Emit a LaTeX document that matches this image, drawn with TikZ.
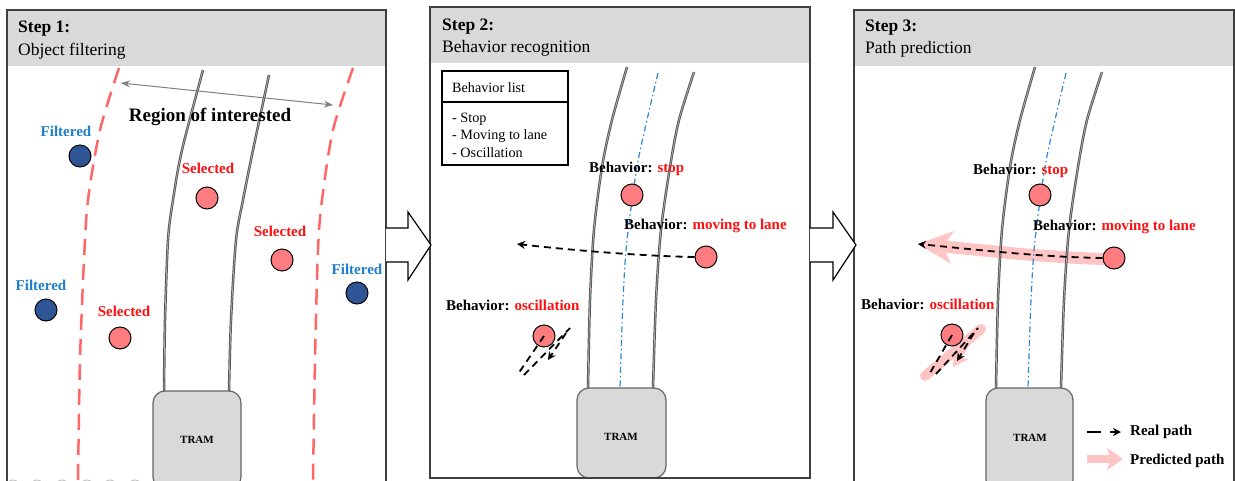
\documentclass[tikz,border=0pt]{standalone}
\usepackage{fontspec}
\setmainfont{Liberation Serif}
\usetikzlibrary{arrows.meta}
\definecolor{hdr}{HTML}{D9D9D9}
\definecolor{frame}{HTML}{404040}
\definecolor{roi}{HTML}{FF6666}
\definecolor{selfill}{HTML}{FF7C80}
\definecolor{filfill}{HTML}{2F5597}
\definecolor{filtxt}{HTML}{1E7FCF}
\definecolor{centre}{HTML}{2E86D6}
\definecolor{predc}{HTML}{FFC4C4}
\definecolor{railc}{HTML}{555555}
\definecolor{redtxt}{HTML}{FF1010}
\begin{document}
\begin{tikzpicture}[x=1pt,y=-1pt,
  panel/.style={draw=frame, line width=1.5pt},
  title/.style={anchor=base west, inner sep=0, font=\fontsize{17.5}{20}\selectfont},
  lbl/.style={anchor=base, inner sep=0, font=\fontsize{15}{18}\selectfont\bfseries},
  blbl/.style={anchor=base west, inner sep=0, font=\fontsize{15}{18}\selectfont\bfseries},
  sel/.style={circle, draw=black, line width=1pt, fill=selfill, minimum size=22pt, inner sep=0},
  fil/.style={circle, draw=black, line width=1pt, fill=filfill, minimum size=22pt, inner sep=0},
  rail/.style={draw=railc, line width=0.9pt, double=gray!60, double distance=0.7pt},
  roiline/.style={draw=roi, line width=2.5pt, dash pattern=on 16pt off 9pt},
  cline/.style={draw=centre, line width=1.2pt, dash pattern=on 6pt off 3pt on 1.5pt off 3pt},
  tram/.style={draw=gray!80!black, line width=1.2pt, fill=hdr, rounded corners=12pt},
  tramtxt/.style={font=\fontsize{11}{13}\selectfont\bfseries, inner sep=0, anchor=base},
  realpath/.style={draw=black, line width=1.8pt, dash pattern=on 7pt off 5pt},
  realtip/.style={-{Stealth[length=8pt,width=8pt]}},
  predpath/.style={draw=predc, line width=12pt},
  blockarrow/.style={draw=black, line width=1.2pt, fill=white, line join=miter},
  listtxt/.style={anchor=base west, inner sep=0, font=\fontsize{14.2}{17}\selectfont}
]
\useasboundingbox (0,0) rectangle (1235,480);
\clip (0,0) rectangle (1235,480);
\fill[white] (0,0) rectangle (1235,480);

% ---------- panel frames ----------
\fill[hdr] (7,10) rectangle (386,66);
\draw[panel] (7,10) rectangle (386,495);
\fill[hdr] (430,7) rectangle (810,63);
\draw[panel] (430,7) rectangle (810,478);
\fill[hdr] (854,10) rectangle (1234,66);
\draw[panel] (854,10) rectangle (1234,495);

\node[title] (t1a) at (18,32) {\bfseries Step 1:};
\node[title] (t1b) at (18,55) {Object filtering};
\node[title] (t2a) at (442,30) {\bfseries Step 2:};
\node[title] (t2b) at (442,52) {Behavior recognition};
\node[title] (t3a) at (865,31) {\bfseries Step 3:};
\node[title] (t3b) at (865,53) {Path prediction};

% ---------- block arrows between panels ----------
\draw[blockarrow] (386,228) -- (408,228) -- (408,212) -- (431,245) -- (408,280) -- (408,262) -- (386,262);
\draw[blockarrow] (810,228) -- (833,228) -- (833,212) -- (856,245) -- (833,280) -- (833,262) -- (810,262);

% ================= Panel 1 =================
\draw[roiline] plot[smooth] coordinates {(119,68) (100,130) (88,200) (84,260) (80,360) (78,480)};
\draw[roiline] plot[smooth] coordinates {(353,68) (333,130) (322,200) (318,250) (315,360) (313,480)};
\draw[rail] plot[smooth] coordinates {(203,70) (182,150) (173,200) (168,240) (165,320) (164,392)};
\draw[rail] plot[smooth] coordinates {(269,75) (253,150) (243,200) (236,240) (231,320) (229,392)};
\coordinate (roiA) at (121,83);
\coordinate (roiB) at (333,105);
\draw[gray, line width=1pt, {Stealth[length=9pt,width=7pt]}-{Stealth[length=9pt,width=7pt]}] (roiA) -- (roiB);
\node[lbl, font=\fontsize{19}{22}\selectfont\bfseries] (roi) at (210,121) {Region of interested};

\node[tram] (tram1) at (197,440) [minimum width=88pt, minimum height=98pt] {};
\node[tramtxt] (tram1t) at (197,443) {TRAM};

\foreach \x in {13,37,62,87,110,135} \draw[gray!45, line width=1pt] (\x,487) circle (7);

\node[fil] (f1) at (80,156) {};
\node[fil] (f2) at (46,310) {};
\node[fil] (f3) at (357,293) {};
\node[sel] (s1) at (207,198) {};
\node[sel] (s2) at (282,260) {};
\node[sel] (s3) at (120,338) {};
\node[lbl, text=filtxt] (lf1) at (66,136) {Filtered};
\node[lbl, text=filtxt] (lf2) at (41,290) {Filtered};
\node[lbl, text=filtxt] (lf3) at (357,274) {Filtered};
\node[lbl, text=redtxt] (ls1) at (208,173) {Selected};
\node[lbl, text=redtxt] (ls2) at (280,236) {Selected};
\node[lbl, text=redtxt] (ls3) at (124,316) {Selected};

% ================= Panel 2 =================
\draw[black, line width=1.3pt] (442,71) rectangle (568,165);
\draw[black, line width=1.3pt] (442,102) -- (568,102);
\node[listtxt] (bl) at (452,92) {Behavior list};
\node[listtxt] (bl1) at (452,122) {- Stop};
\node[listtxt] (bl2) at (452,139) {- Moving to lane};
\node[listtxt] (bl3) at (452,157) {- Oscillation};

\draw[rail] plot[smooth] coordinates {(627,67) (612,120) (602,167) (594,230) (590,300) (588,388)};
\draw[rail] plot[smooth] coordinates {(694,72) (679,120) (670,167) (661,230) (656,300) (653,388)};
\draw[cline] plot[smooth] coordinates {(658,73) (647,120) (637,167) (627,240) (623,300) (620,388)};
\node[tram] (tram2) at (621.5,433) [minimum width=89pt, minimum height=90pt] {};
\draw[panel] (430,478) -- (810,478);
\node[tramtxt] (tram2t) at (621,440) {TRAM};

\node[sel] (st2) at (632,195) {};
\node[sel] (mv2) at (706,257) {};
\node[sel] (os2) at (544,336) {};
\node[blbl] (lst2) at (589,172) {Behavior: \textcolor{redtxt}{stop}};
\node[blbl] (lmv2) at (624,229) {Behavior: \textcolor{redtxt}{moving to lane}};
\node[blbl] (los2) at (446,310) {Behavior: \textcolor{redtxt}{oscillation}};

\coordinate (m2end) at (517,244);
\draw[realpath, realtip] (mv2.west) .. controls (640,256) and (570,250) .. (m2end);
\coordinate (o2a) at (518,374);
\coordinate (o2b) at (524,375);
\coordinate (o2c) at (570,328);
\coordinate (o2d) at (566,333);
\coordinate (o2e) at (548,360);
\draw[realpath] (os2.center) -- (o2a);
\draw[realpath] (o2b) -- (o2c);
\draw[realpath, realtip] (o2d) -- (o2e);

% ================= Panel 3 =================
\coordinate (m3end) at (918,244);
\draw[predpath, -{Stealth[length=34pt,width=32pt,inset=9pt]}] (1104,259) .. controls (1040,257) and (980,250) .. (m3end);
\draw[predc, line width=10pt, line cap=round] (925,376) -- (981,329);
\draw[predc, line width=4pt, -{Stealth[length=15pt,width=17pt,inset=4pt]}] (975,333) -- (953,367);

\draw[rail] plot[smooth] coordinates {(1035,67) (1020,120) (1010,167) (1002,230) (998,300) (996,388)};
\draw[rail] plot[smooth] coordinates {(1102,72) (1087,120) (1078,167) (1069,230) (1064,300) (1061,388)};
\draw[cline] plot[smooth] coordinates {(1066,73) (1055,120) (1045,167) (1035,240) (1031,300) (1028,388)};
\node[tram] (tram3) at (1029.5,440) [minimum width=87pt, minimum height=104pt] {};
\node[tramtxt] (tram3t) at (1030,441) {TRAM};

\node[sel] (st3) at (1040,195) {};
\node[sel] (mv3) at (1114,258) {};
\node[blbl] (lst3) at (973,174) {Behavior: \textcolor{redtxt}{stop}};
\node[blbl] (lmv3) at (1033,230) {Behavior: \textcolor{redtxt}{moving to lane}};
\node[blbl] (los3) at (861,309) {Behavior: \textcolor{redtxt}{oscillation}};

\draw[realpath, realtip] (mv3.west) .. controls (1040,257) and (980,250) .. (m3end);
\node[sel] (os3) at (952,335) {};
\coordinate (o3a) at (930,373);
\coordinate (o3b) at (936,374);
\coordinate (o3c) at (978,328);
\coordinate (o3d) at (974,333);
\coordinate (o3e) at (957,361);
\draw[realpath] (os3.center) -- (o3a);
\draw[realpath] (o3b) -- (o3c);
\draw[realpath, realtip] (o3d) -- (o3e);

% legend
\coordinate (lr1) at (1087,432);
\coordinate (lr2) at (1121,432);
\coordinate (lp1) at (1087,459);
\coordinate (lp2) at (1123,459);
\draw[black, line width=2pt, dash pattern=on 14pt off 9pt, realtip] (lr1) -- (lr2);
\draw[predc, line width=8pt, -{Stealth[length=16pt,width=22pt,inset=4pt]}] (lp1) -- (lp2);
\node[blbl] (lgr) at (1130,435) {Real path};
\node[blbl] (lgp) at (1130,464) {Predicted path};
\end{tikzpicture}
\end{document}
